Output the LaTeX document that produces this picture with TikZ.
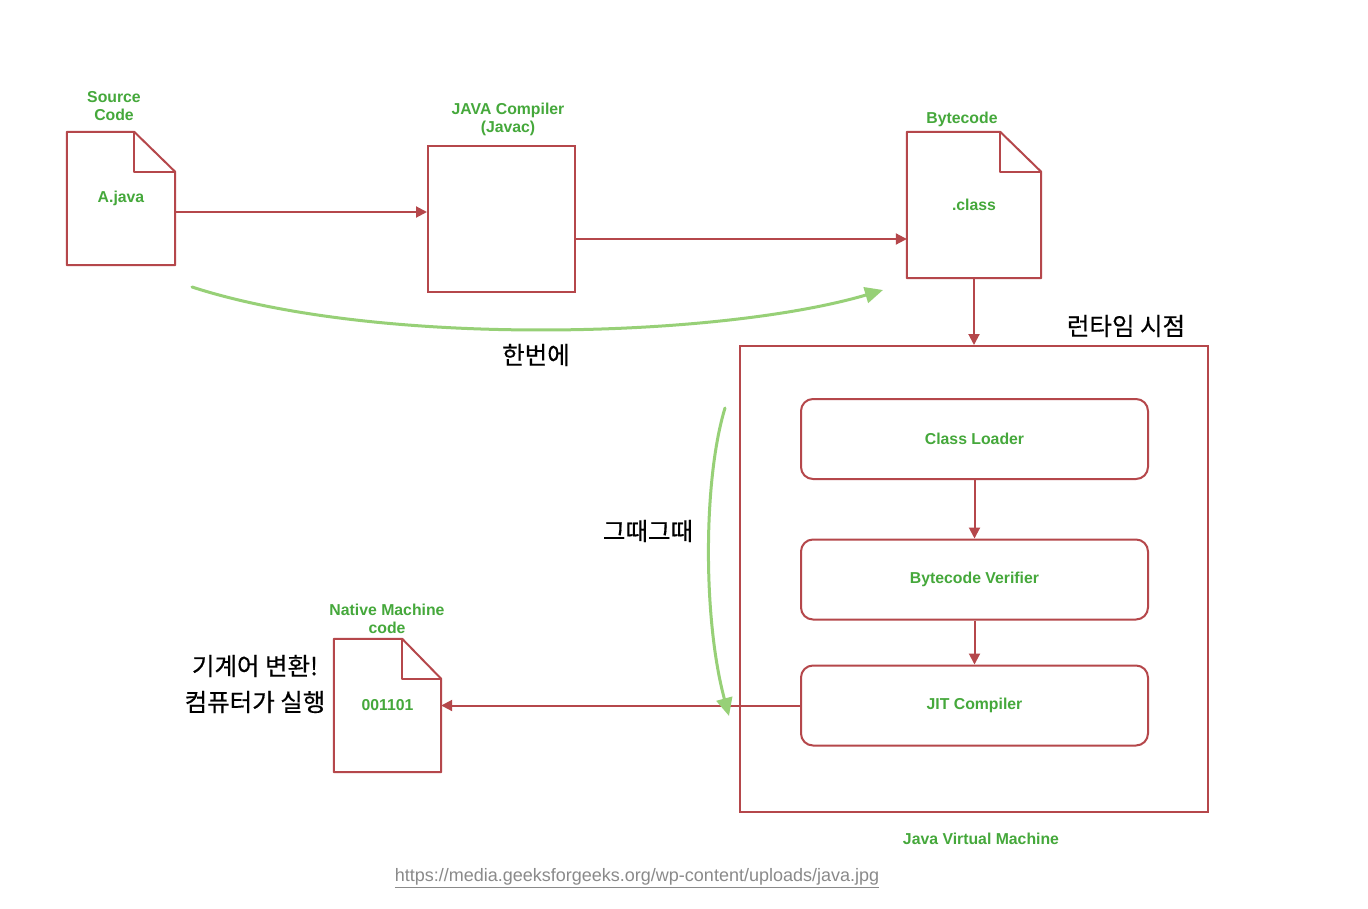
\documentclass[tikz,border=0pt]{standalone}
\usepackage{fontspec}
\setmainfont{Liberation Sans}
\newfontfamily\krfont[FakeBold=0.5]{Noto Sans CJK KR}
\usetikzlibrary{arrows.meta,calc}
\definecolor{dred}{HTML}{B5474B}
\definecolor{tgreen}{HTML}{45A83B}
\definecolor{lgreen}{HTML}{97D077}
\definecolor{urlgray}{HTML}{8A8A8A}
\newcommand\docshape[3]{%
  \draw[boxline,line join=round] (#1.south west) -- (#1.north west) -- ($(#1.north east)+(-#2,0)$) -- ($(#1.north east)+(0,#3)$) -- (#1.south east) -- cycle;
  \draw[boxline,line join=round] ($(#1.north east)+(-#2,0)$) -- ($(#1.north east)+(-#2,#3)$) -- ($(#1.north east)+(0,#3)$);}
\tikzset{
  lbl/.style={text=tgreen, font=\fontsize{15.8}{18}\selectfont\bfseries, align=center, inner sep=0pt},
  kor/.style={font=\krfont\fontsize{24.5}{36}\selectfont, align=center, inner sep=0pt},
  boxline/.style={draw=dred, line width=2pt},
  plainbox/.style={boxline, inner sep=0pt, lbl},
  roundbox/.style={boxline, rounded corners=12pt, minimum width=347pt, minimum height=80pt, inner sep=0pt, lbl},
  arr/.style={draw=dred, line width=2pt, -{Triangle[length=11pt,width=11pt]}},
  garr/.style={draw=lgreen, line width=3pt, line cap=round, -{Triangle[length=18pt,width=16pt]}}
}
\begin{document}
\begin{tikzpicture}[x=1pt,y=-1pt]
\useasboundingbox[fill=white] (0,0) rectangle (1368,908);

% documents
\node[lbl, minimum width=108pt, minimum height=133pt] (src) at (121,198.5) {A.java};
\docshape{src}{41}{40}
\node[lbl] (srclbl) at (114,106) {Source\\Code};

\node[plainbox, minimum width=147pt, minimum height=146pt] (comp) at (501.5,219) {};
\node[lbl] (complbl) at (508,119) {JAVA Compiler\\(Javac)};

\node[lbl, minimum width=134pt, minimum height=146pt] (bc) at (974,205) {.class};
\docshape{bc}{41}{40}
\node[lbl] (bclbl) at (962,119) {Bytecode};

\node[lbl, minimum width=107pt, minimum height=133pt] (nat) at (387.5,705.5) {001101};
\docshape{nat}{39}{40}
\node[lbl] (natlbl) at (387,619) {Native Machine\\code};

% JVM
\node[plainbox, minimum width=468pt, minimum height=466pt] (jvm) at (974,579) {};
\node[lbl] (jvmlbl) at (981,839) {Java Virtual Machine};
\node[roundbox] (cl) at (974.5,439) {Class Loader};
\node[roundbox] (bv) at (974.5,579.5) {Bytecode Verifier};
\node[roundbox] (jit) at (974.5,705.5) {JIT Compiler};

% red connectors
\draw[arr] ([yshift=-13.5pt]src.east) -- ([yshift=-13.5pt]src.east -| comp.west);
\draw[arr] ([yshift=-20pt]comp.east) -- ([yshift=-20pt]comp.east -| bc.west);
\draw[arr] (bc.south) -- (bc.south |- jvm.north);
\draw[arr] (cl.south) -- (bv.north);
\draw[arr] (bv.south) -- (jit.north);
\draw[arr] (jit.west) -- (nat.east);

% Korean annotations
\node[kor] (runtime) at (1126,326) {런타임 시점};
\node[kor] (once) at (536,355) {한번에};
\node[kor] (each) at (648,531) {그때그때};
\node[kor] (mach) at (255,684) {기계어 변환!\\컴퓨터가 실행};

% green arrows
\coordinate (g1s) at (192,287);
\coordinate (g1e) at (883,290);
\draw[garr] (g1s) .. controls (380,348) and (720,338) .. (g1e);
\coordinate (g2s) at (725,408);
\coordinate (g2e) at (729,716);
\draw[garr] (g2s) .. controls (703,480) and (703,620) .. (g2e);

% source url
\node[text=urlgray, font=\fontsize{18}{20}\selectfont, inner sep=0pt] (url) at (637,878) {\underline{https://media.geeksforgeeks.org/wp-content/uploads/java.jpg}};
\end{tikzpicture}
\end{document}
